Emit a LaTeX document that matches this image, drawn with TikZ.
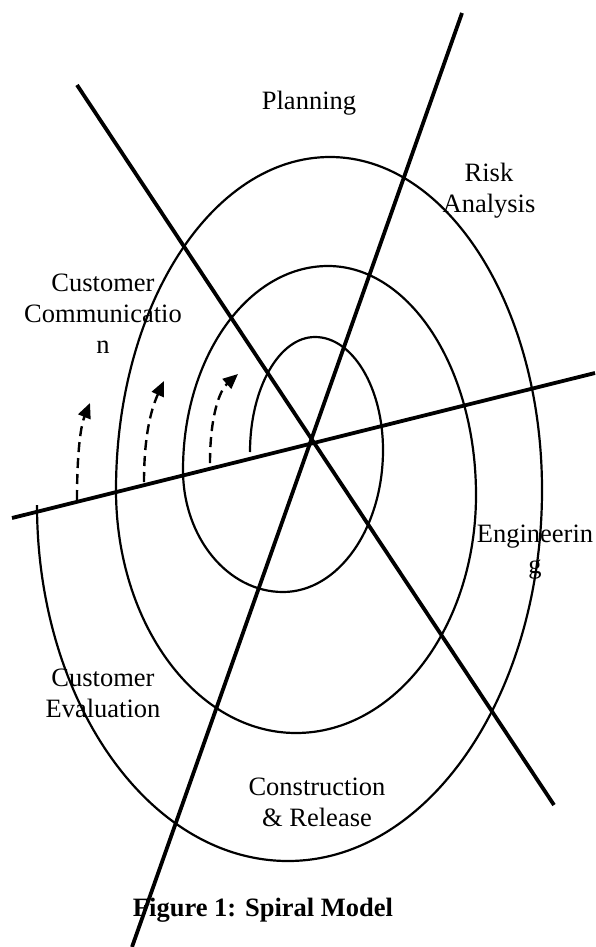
\documentclass[tikz,border=0pt]{standalone}
\usepackage{fontspec}
\setmainfont{Liberation Serif}
\usetikzlibrary{arrows.meta}
\begin{document}
\begin{tikzpicture}[x=1pt,y=-1pt,
  axisline/.style={line width=3.8pt},
  ring/.style={line width=2.2pt},
  flow/.style={line width=2.4pt, dash pattern=on 10pt off 6pt, -{Triangle[length=15pt,width=13pt]}},
  lbl/.style={font=\fontsize{26.5}{31}\selectfont, align=center, inner sep=0pt},
  captxt/.style={font=\bfseries\fontsize{26.5}{31}\selectfont, inner sep=0pt}]
\useasboundingbox (0,0) rectangle (595,947);
% axis lines
\coordinate (a1) at (462,13);  \coordinate (a2) at (132,947);
\coordinate (b1) at (77,85);   \coordinate (b2) at (554,805);
\coordinate (c1) at (12,518);  \coordinate (c2) at (595,373);
\draw[axisline] (a1) -- (a2);
\draw[axisline] (b1) -- (b2);
\draw[axisline] (c1) -- (c2);
% spiral
\coordinate (s0) at (250,452);
\draw[ring] (s0)
  arc[start angle=180,end angle=270,x radius=65,y radius=115]
  arc[start angle=270,end angle=360,x radius=68,y radius=113]
  arc[start angle=0,end angle=90,x radius=100,y radius=142]
  arc[start angle=90,end angle=180,x radius=100,y radius=122]
  arc[start angle=180,end angle=270,x radius=145,y radius=204]
  arc[start angle=270,end angle=360,x radius=148,y radius=229]
  arc[start angle=0,end angle=90,x radius=180,y radius=238]
  arc[start angle=90,end angle=180,x radius=180,y radius=243]
  arc[start angle=180,end angle=270,x radius=214,y radius=333]
  arc[start angle=270,end angle=360,x radius=212,y radius=333]
  arc[start angle=0,end angle=90,x radius=254,y radius=371]
  arc[start angle=90,end angle=180,x radius=251,y radius=356];
% dashed arrows
\coordinate (f1s) at (77,500);  \coordinate (f1e) at (90,403);
\coordinate (f2s) at (144,482); \coordinate (f2e) at (164,381);
\coordinate (f3s) at (210,463); \coordinate (f3e) at (238,374);
\draw[flow] (f1s) .. controls (77,450) and (81,425) .. (f1e);
\draw[flow] (f2s) .. controls (144,430) and (153,405) .. (f2e);
\draw[flow] (f3s) .. controls (210,415) and (220,390) .. (f3e);
% labels
\node[lbl, anchor=base] (plan) at (309,110) {Planning};
\node[lbl] (risk) at (489,191) {Risk\\Analysis};
\node[lbl] (comm) at (103,314) {Customer\\Communicatio\\n};
\node[lbl] (eng) at (535,552) {Engineerin\\g};
\node[lbl] (eval) at (103,693) {Customer\\Evaluation};
\node[lbl] (cons) at (317,802) {Construction\\\& Release};
\node[captxt, anchor=base] (cap) at (263,916) {Figure 1: Spiral Model};
\end{tikzpicture}
\end{document}
